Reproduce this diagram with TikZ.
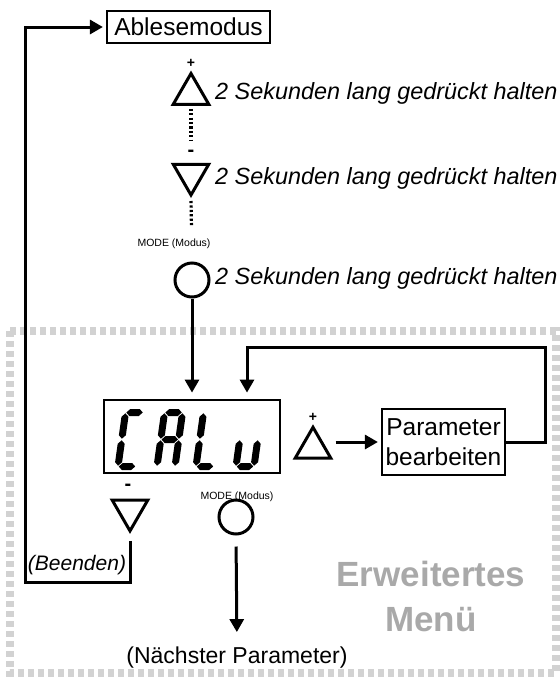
\documentclass[tikz,border=0pt]{standalone}
\usepackage{fontspec}
\setmainfont{Liberation Sans}
\usetikzlibrary{arrows.meta,shapes.geometric}
\definecolor{framegray}{HTML}{D2D2D2}
\definecolor{labelgray}{HTML}{A9A9A9}
\def\dg{0.8}
\def\dh{3.5}
\newcommand\hsegm[3]{\fill ({#1+\dg},{#3}) -- ({#1+\dg+\dh},{#3+\dh}) -- ({#2-\dg-\dh},{#3+\dh}) -- ({#2-\dg},{#3}) -- ({#2-\dg-\dh},{#3-\dh}) -- ({#1+\dg+\dh},{#3-\dh}) -- cycle;}
\newcommand\vsegm[3]{\fill ({#1},{#2+\dg}) -- ({#1+\dh},{#2+\dg+\dh}) -- ({#1+\dh},{#3-\dg-\dh}) -- ({#1},{#3-\dg}) -- ({#1-\dh},{#3-\dg-\dh}) -- ({#1-\dh},{#2+\dg+\dh}) -- cycle;}
% segment helpers: L=3.5 R=21.5 B=3.5 M=30.5 T=57.5
\newcommand\sgA{\hsegm{3.5}{21.5}{57.5}}
\newcommand\sgB{\vsegm{21.5}{30.5}{57.5}}
\newcommand\sgC{\vsegm{21.5}{3.5}{30.5}}
\newcommand\sgD{\hsegm{3.5}{21.5}{3.5}}
\newcommand\sgE{\vsegm{3.5}{3.5}{30.5}}
\newcommand\sgF{\vsegm{3.5}{30.5}{57.5}}
\newcommand\sgG{\hsegm{3.5}{21.5}{30.5}}
\tikzset{
 conn/.style={line width=3pt, -{Triangle[length=13pt,width=14pt]}},
 dotline/.style={line width=3.2pt, dash pattern=on 2.2pt off 2.2pt},
 txtbox/.style={draw, line width=2.2pt, inner sep=0pt},
 tri/.style={draw, line width=3pt, regular polygon, regular polygon sides=3, minimum size=41pt, inner sep=0pt},
 trid/.style={tri, shape border rotate=180},
 btn/.style={draw, circle, line width=3pt, minimum size=34pt, inner sep=0pt},
 hint/.style={font=\itshape\fontsize{23.4}{27}\selectfont, anchor=west, inner sep=0pt},
 plus/.style={font=\bfseries\fontsize{14}{14}\selectfont, inner sep=0pt},
 minus/.style={font=\bfseries\fontsize{20}{20}\selectfont, inner sep=0pt},
 modelbl/.style={font=\fontsize{10.5}{12}\selectfont, inner sep=0pt},
 digit/.style={shift={(#1,470)}, xslant=0.14, yscale=-1},
}
\begin{document}
\begin{tikzpicture}[x=1pt,y=-1pt]
\useasboundingbox (0,0) rectangle (560,681);
% frame of extended menu
\draw[framegray, line width=8pt, dash pattern=on 6pt off 4pt] (10,331) rectangle (556,673);
\node[font=\bfseries\fontsize{35}{45}\selectfont, text=labelgray, align=center, inner sep=0pt] (erw) at (431,596) {Erweitertes\\Menü};

% top part
\node[txtbox, minimum width=163pt, minimum height=32pt, font=\fontsize{24.5}{28}\selectfont] (abl) at (188.5,27) {Ablesemodus};
\node[plus] (p1) at (191,63) {+};
\node[tri] (t1) at (191,94) {};
\node[hint] (h1) at (215,93) {2 Sekunden lang gedrückt halten};
\node[minus] (m1) at (191,153) {-};
\node[trid] (t2) at (191,174.5) {};
\node[hint] (h2) at (215,178) {2 Sekunden lang gedrückt halten};
\node[modelbl] (mo1) at (174,244) {MODE (Modus)};
\node[btn] (c1) at (192,280) {};
\node[hint] (h3) at (215,278) {2 Sekunden lang gedrückt halten};
\draw[dotline, shorten <=3pt, shorten >=23pt] (t1.south) -- (t2.north);
\draw[dotline, shorten <=3pt, shorten >=35pt] (t2.south) -- (c1.north);

% display
\node[draw, line width=2.8pt, minimum width=176pt, minimum height=73pt, inner sep=0pt] (calu) at (192,436.5) {};
\begin{scope}[digit=114]\sgA\sgF\sgE\sgD\end{scope}
\begin{scope}[digit=153]\sgA\sgB\sgC\sgE\sgF\sgG\end{scope}
\begin{scope}[digit=192]\sgF\sgE\sgD\end{scope}
\begin{scope}[digit=232]\sgE\sgD\sgC\end{scope}

\draw[conn, shorten >=6pt] (c1.south) -- (c1.south |- calu.north);

% parameter edit loop
\node[plus] (p3) at (313,417) {+};
\node[tri] (t3) at (313,447.8) {};
\node[txtbox, minimum width=123pt, minimum height=66pt, align=center, font=\fontsize{24.5}{30}\selectfont] (par) at (443.5,442) {Parameter\\bearbeiten};
\coordinate (t3r) at ([xshift=9pt]t3.east);
\draw[conn, shorten >=3pt] (t3r |- par.west) -- (par.west);
\coordinate (fbr) at (545,347);
\coordinate (fbl) at (247,347);
\draw[conn, shorten >=6pt] (par.east) -| (fbr) -- (fbl) -- (fbl |- calu.north);

% lower buttons
\node[minus] (m2) at (128,487) {-};
\node[trid] (t4) at (130,510.4) {};
\node[modelbl] (mo2) at (237,497) {MODE (Modus)};
\node[btn] (c2) at (236,517) {};
\node[font=\itshape\fontsize{21}{25}\selectfont, inner sep=0pt] (been) at (77,565) {(Beenden)};
\coordinate (bl) at (25,582);
\draw[conn, shorten <=7pt, shorten >=3pt] (t4.south) -- (t4.south |- bl) -- (bl) -- (bl |- abl.west) -- (abl.west);
\node[font=\fontsize{23}{27}\selectfont, inner sep=0pt] (next) at (237,658) {(Nächster Parameter)};
\draw[conn, shorten <=11pt, shorten >=15pt] (c2.south) -- (next.north);
\end{tikzpicture}
\end{document}
